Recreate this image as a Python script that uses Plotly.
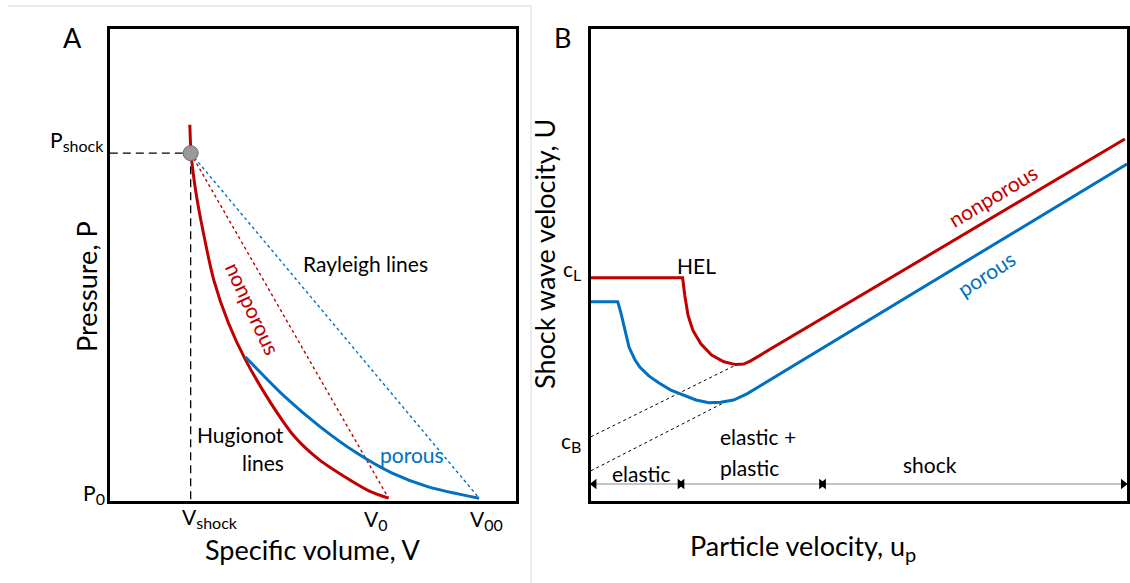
import plotly.graph_objects as go

# ---------------- Panel A data (arbitrary units) ----------------
hug_nonporous_V = [1.97, 2.00, 2.11, 2.29, 2.56, 2.92, 3.34, 3.96, 4.55, 5.16, 5.90, 6.39, 6.86]
hug_nonporous_P = [7.97, 7.37, 6.59, 5.74, 4.68, 3.77, 2.99, 2.08, 1.36, 0.87, 0.45, 0.21, 0.06]
hug_porous_V = [3.34, 4.32, 5.18, 6.07, 6.95, 7.84, 9.09]
hug_porous_P = [3.05, 2.20, 1.57, 1.02, 0.59, 0.30, 0.06]
V_shock, P_shock = 1.99, 7.37
V_0, V_00, P_0 = 6.86, 9.09, 0.06

# ---------------- Panel B data (arbitrary units) ----------------
us_nonporous_up = [0.0, 1.71, 1.75, 1.81, 1.90, 2.05, 2.25, 2.48, 2.70, 2.85, 2.98, 9.96]
us_nonporous_U = [4.73, 4.73, 4.36, 3.94, 3.62, 3.33, 3.09, 2.95, 2.89, 2.90, 2.97, 7.67]
us_porous_up = [0.0, 0.50, 0.56, 0.63, 0.71, 0.82, 0.91, 1.08, 1.27, 1.49, 1.70, 1.96, 2.20, 2.42, 2.66, 2.91, 3.13, 10.0]
us_porous_U = [4.22, 4.22, 3.98, 3.62, 3.26, 2.99, 2.84, 2.65, 2.50, 2.35, 2.25, 2.14, 2.08, 2.09, 2.14, 2.27, 2.42, 7.14]
extrap_upper_up = [0.0, 2.70]
extrap_upper_U = [1.36, 2.88]
extrap_lower_up = [0.0, 2.51]
extrap_lower_U = [0.64, 2.10]
regime_names = ["elastic", "elastic+plastic", "shock"]
regime_start = [0.06, 1.70, 4.34]
regime_end = [1.66, 4.30, 9.93]
regime_level = 0.36

RED = "#C00000"
BLUE = "#0070C0"
FONT = "Lato"

W, H = 1130, 583
def px(x):
    return x / W
def py(y):
    return 1 - y / H

DOM_A_X = [px(110), px(517)]
DOM_B_X = [px(592), px(1129)]
DOM_Y = [py(501), py(29)]
RANGE = [0, 10]

def to_paper(v, dom):
    return dom[0] + (v - RANGE[0]) / (RANGE[1] - RANGE[0]) * (dom[1] - dom[0])

def sub(base, s, size=16):
    return f'{base}<sub><span style="font-size:{size}px">{s}</span></sub>'

fig = go.Figure()

# ---------- Panel A traces ----------
fig.add_trace(go.Scatter(x=[0, V_shock], y=[P_shock, P_shock], mode="lines",
                         line=dict(color="black", width=1.3, dash="8px,5px"),
                         xaxis="x", yaxis="y", showlegend=False))
fig.add_trace(go.Scatter(x=[V_shock, V_shock], y=[P_shock, 0], mode="lines",
                         line=dict(color="black", width=1.3, dash="8px,5px"),
                         xaxis="x", yaxis="y", showlegend=False))
fig.add_trace(go.Scatter(x=[V_shock, V_0], y=[P_shock, P_0], mode="lines",
                         line=dict(color=RED, width=1.4, dash="3px,3px"),
                         xaxis="x", yaxis="y", showlegend=False))
fig.add_trace(go.Scatter(x=[V_shock, V_00], y=[P_shock, P_0], mode="lines",
                         line=dict(color=BLUE, width=1.4, dash="3px,3px"),
                         xaxis="x", yaxis="y", showlegend=False))
fig.add_trace(go.Scatter(x=hug_nonporous_V, y=hug_nonporous_P, mode="lines",
                         line=dict(color=RED, width=3, shape="spline", smoothing=0.8),
                         xaxis="x", yaxis="y", showlegend=False))
fig.add_trace(go.Scatter(x=hug_porous_V, y=hug_porous_P, mode="lines",
                         line=dict(color=BLUE, width=3, shape="spline", smoothing=0.8),
                         xaxis="x", yaxis="y", showlegend=False))
fig.add_trace(go.Scatter(x=[V_shock], y=[P_shock], mode="markers",
                         marker=dict(color="#9a9a9a", size=15, line=dict(color="#6a6a6a", width=1)),
                         xaxis="x", yaxis="y", showlegend=False))

# ---------- Panel B traces ----------
fig.add_trace(go.Scatter(x=extrap_upper_up, y=extrap_upper_U, mode="lines",
                         line=dict(color="black", width=1, dash="dot"),
                         xaxis="x2", yaxis="y2", showlegend=False))
fig.add_trace(go.Scatter(x=extrap_lower_up, y=extrap_lower_U, mode="lines",
                         line=dict(color="black", width=1, dash="dot"),
                         xaxis="x2", yaxis="y2", showlegend=False))
fig.add_trace(go.Scatter(x=us_nonporous_up, y=us_nonporous_U, mode="lines",
                         line=dict(color=RED, width=3),
                         xaxis="x2", yaxis="y2", showlegend=False))
fig.add_trace(go.Scatter(x=us_porous_up, y=us_porous_U, mode="lines",
                         line=dict(color=BLUE, width=3),
                         xaxis="x2", yaxis="y2", showlegend=False))
for s, e in zip(regime_start, regime_end):
    fig.add_trace(go.Scatter(x=[s, e], y=[regime_level, regime_level], mode="lines",
                             line=dict(color="#8c8c8c", width=1.2),
                             xaxis="x2", yaxis="y2", showlegend=False))
    fig.add_trace(go.Scatter(x=[s, e], y=[regime_level, regime_level], mode="markers",
                             marker=dict(color="black", size=9,
                                         symbol=["triangle-left", "triangle-right"]),
                             xaxis="x2", yaxis="y2", showlegend=False))

axis_common = dict(showgrid=False, zeroline=False, showticklabels=False, ticks="",
                   showline=True, linecolor="black", linewidth=2.5, mirror=True,
                   fixedrange=True)

fig.update_layout(
    width=W, height=H,
    margin=dict(l=0, r=0, t=0, b=0),
    paper_bgcolor="white", plot_bgcolor="white",
    font=dict(family=FONT, color="black"),
    xaxis=dict(domain=DOM_A_X, range=RANGE, anchor="y", **axis_common),
    yaxis=dict(domain=DOM_Y, range=RANGE, anchor="x", **axis_common),
    xaxis2=dict(domain=DOM_B_X, range=RANGE, anchor="y2", **axis_common),
    yaxis2=dict(domain=DOM_Y, range=RANGE, anchor="x2", **axis_common),
)

# light gray frame line (separator)
fig.add_shape(type="line", xref="paper", yref="paper", x0=px(8), x1=px(532), y0=py(6), y1=py(6),
              line=dict(color="#d9d9d9", width=1))
fig.add_shape(type="line", xref="paper", yref="paper", x0=px(532), x1=px(532), y0=py(6), y1=0,
              line=dict(color="#d9d9d9", width=1))

def ann(text, x, y, panel, size=21, color="black", angle=0, xanchor="center",
        yanchor="middle", align="center"):
    dom_x = DOM_A_X if panel == "A" else DOM_B_X
    fig.add_annotation(text=text, x=to_paper(x, dom_x), y=to_paper(y, DOM_Y),
                       xref="paper", yref="paper", showarrow=False,
                       font=dict(family=FONT, size=size, color=color), textangle=angle,
                       xanchor=xanchor, yanchor=yanchor, align=align)

# ---------- Panel A annotations ----------
ann("A", -0.93, 9.83, "A", size=27)
ann("Pressure, P", -0.59, 4.55, "A", size=27, angle=-90)
ann("Specific volume, V", 4.99, -1.02, "A", size=27)
ann(sub("P", "shock"), -0.10, 7.62, "A", size=21, xanchor="right")
ann(sub("P", "0"), -0.07, 0.15, "A", size=21, xanchor="right")
ann(sub("V", "shock"), 2.46, -0.36, "A", size=21)
ann(sub("V", "0"), 6.56, -0.40, "A", size=21)
ann(sub("V", "00"), 9.26, -0.40, "A", size=21)
ann("Rayleigh lines", 6.29, 5.04, "A", size=21)
ann("nonporous", 3.52, 4.07, "A", size=21, color=RED, angle=65)
ann("Hugionot", 4.33, 1.40, "A", size=21, xanchor="right")
ann("lines", 4.33, 0.81, "A", size=21, xanchor="right")
ann("porous", 7.43, 0.99, "A", size=21, color=BLUE)

# ---------- Panel B annotations ----------
ann("B", -0.54, 9.83, "B", size=27)
ann("Shock wave velocity, U", -0.88, 5.23, "B", size=27, angle=-90)
ann("Particle velocity, " + sub("u", "p", 20), 3.95, -0.98, "B", size=27)
ann(sub("c", "L"), -0.15, 4.90, "B", size=21, xanchor="right")
ann(sub("c", "B"), -0.15, 1.25, "B", size=21, xanchor="right")
ann("HEL", 1.96, 5.00, "B", size=21)
ann("nonporous", 7.49, 6.48, "B", size=21, color=RED, angle=-31)
ann("porous", 7.37, 4.83, "B", size=21, color=BLUE, angle=-33)
ann("elastic", 0.95, 0.59, "B", size=21)
ann("elastic +", 2.37, 1.36, "B", size=21, xanchor="left")
ann("plastic", 2.37, 0.72, "B", size=21, xanchor="left")
ann("shock", 6.33, 0.78, "B", size=21)

fig.write_html("out.html")
